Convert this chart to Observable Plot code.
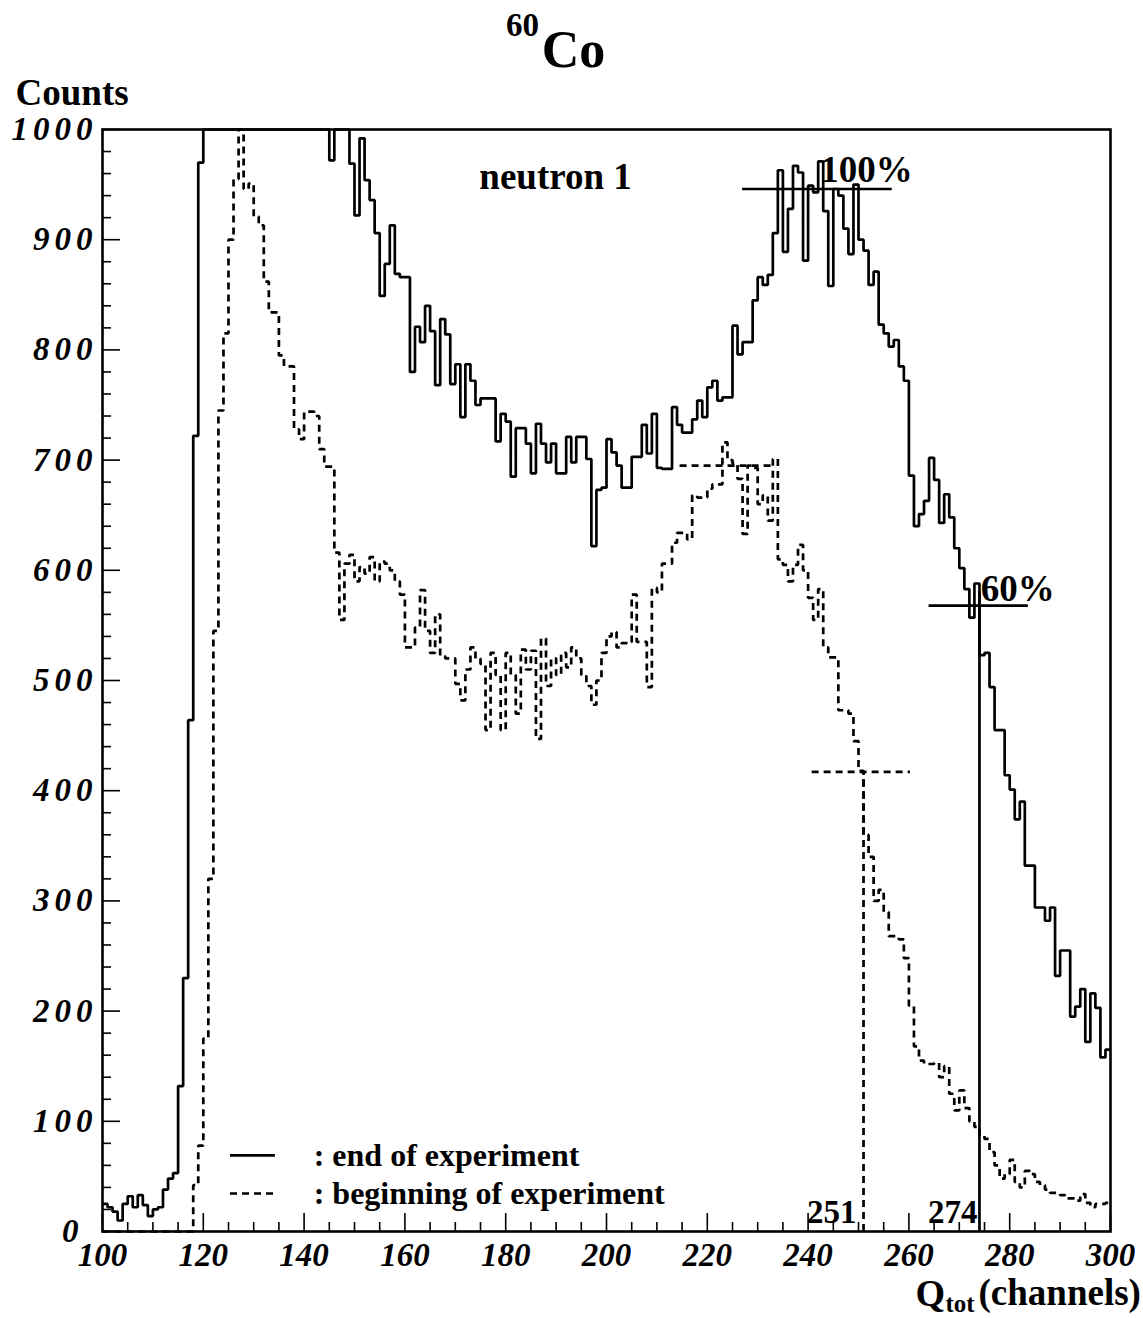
<!DOCTYPE html>
<html>
<head>
<meta charset="utf-8">
<script src="https://cdn.jsdelivr.net/npm/d3@7"></script>
<script src="https://cdn.jsdelivr.net/npm/@observablehq/plot@0.6"></script>
<style>
  html, body { margin: 0; padding: 0; background: #fff; }
  #chart { width: 1143px; height: 1318px; }
</style>
</head>
<body>
<div id="chart"></div>
<script>
// ---------------- data ----------------
const firstChannel = 100;

// "end of experiment" (solid), counts per channel 100..299
const endCounts = [
  25, 22, 18, 10, 25, 32, 22, 33, 24, 14,
  20, 22, 38, 48, 53, 132, 230, 464, 722, 970,
  1150, 1300, 1450, 1600, 1700, 1780, 1820, 1850, 1840, 1800,
  1750, 1680, 1600, 1520, 1450, 1380, 1300, 1250, 1200, 1150,
  1110, 1080, 1050, 1030, 1010, 972, 1010, 1005, 1003, 969,
  922, 992, 954, 936, 906, 849, 878, 913, 869, 866,
  866, 780, 821, 807, 840, 817, 768, 828, 814, 769,
  787, 739, 787, 772, 750, 756, 756, 756, 717, 742,
  735, 685, 729, 729, 715, 688, 733, 715, 698, 715,
  688, 688, 721, 698, 721, 721, 701, 622, 673, 675,
  719, 707, 695, 675, 675, 703, 703, 732, 706, 742,
  693, 692, 692, 748, 732, 725, 725, 737, 754, 739,
  766, 772, 754, 757, 757, 822, 796, 807, 807, 845,
  866, 859, 868, 906, 963, 889, 928, 967, 961, 881,
  949, 943, 971, 926, 858, 946, 940, 910, 887, 950,
  900, 890, 859, 871, 823, 815, 803, 809, 785, 772,
  686, 640, 651, 663, 702, 682, 643, 669, 648, 620,
  602, 583, 557, 588, 523, 525, 494, 455, 455, 414,
  401, 374, 390, 332, 332, 294, 294, 282, 294, 232,
  255, 255, 195, 204, 220, 172, 216, 203, 158, 165
];

// "beginning of experiment" (dashed), counts per channel 100..299
const beginCounts = [
  0, 0, 0, 0, 0, 0, 0, 0, 0, 0,
  0, 0, 0, 0, 0, 0, 0, 0, 42, 78,
  175, 320, 545, 745, 815, 900, 955, 1010, 946, 951,
  921, 913, 862, 834, 834, 795, 785, 785, 728, 719,
  744, 744, 740, 710, 694, 694, 616, 555, 606, 614,
  590, 603, 597, 612, 590, 608, 606, 600, 590, 578,
  530, 530, 548, 582, 545, 525, 560, 522, 520, 520,
  497, 482, 510, 530, 520, 515, 455, 525, 505, 455,
  525, 505, 470, 528, 510, 527, 447, 538, 495, 520,
  505, 525, 512, 530, 520, 505, 495, 478, 500, 525,
  540, 544, 530, 534, 535, 578, 535, 535, 494, 584,
  580, 606, 606, 625, 634, 634, 628, 668, 666, 666,
  674, 678, 678, 716, 700, 697, 683, 633, 695, 693,
  660, 668, 645, 701, 610, 605, 590, 605, 623, 600,
  575, 555, 583, 530, 521, 521, 473, 473, 470, 445,
  418, 360, 340, 300, 310, 290, 268, 268, 265, 248,
  205, 168, 155, 152, 152, 153, 140, 150, 125, 110,
  128, 112, 100, 95, 88, 84, 72, 60, 48, 52,
  65, 45, 40, 55, 52, 45, 42, 38, 35, 35,
  33, 30, 30, 28, 34, 26, 22, 25, 25, 26
];

// tick values
const xMajorTicks = [100, 120, 140, 160, 180, 200, 220, 240, 260, 280, 300];
const xMinorTicks = d3.range(100, 301, 5).filter(v => v % 20 !== 0);
const yMajorTicks = [0, 100, 200, 300, 400, 500, 600, 700, 800, 900, 1000];
const yMinorTicks = d3.range(0, 1001, 20).filter(v => v % 100 !== 0);

// reference levels (100% and 60% of the Compton edge) and edge positions
const levelLines = [
  {x1: 227.0, x2: 256.7, y: 946, dashed: false},
  {x1: 264.0, x2: 283.7, y: 568, dashed: false},
  {x1: 214.6, x2: 233.6, y: 695, dashed: true},
  {x1: 240.8, x2: 260.3, y: 417, dashed: true}
];
const edgeLines = [
  {x: 274, y2: 580, dashed: false},
  {x: 251, y2: 417, dashed: true}
];

// annotations
const annotations = [
  {text: "neutron 1", x: 189.9, y: 957, size: 37},
  {text: "100%", x: 251.6, y: 963, size: 37},
  {text: "60%", x: 281.6, y: 583, size: 37},
  {text: "251", x: 244.7, y: 17, size: 33},
  {text: "274", x: 268.7, y: 17, size: 33}
];

// legend
const legendEntries = [
  {label: ": end of experiment", y: 69, dashed: false},
  {label: ": beginning of experiment", y: 34.5, dashed: true}
];
const legendLineX = [125.4, 134.3];
const legendTextX = 141.9;

// ---------------- build ----------------
const toSteps = vals => {
  const pts = vals.map((v, i) => ({x: firstChannel + i, y: v}));
  pts.push({x: firstChannel + vals.length, y: vals[vals.length - 1]});
  return pts;
};

const W = 1143, H = 1318, mL = 102, mR = 33, mT = 129, mB = 87;
const frameW = W - mL - mR, frameH = H - mT - mB;
const serif = "'Liberation Serif', 'Times New Roman', Times, serif";
const dash = "7,5";
const LW = 2.7;
const txt = {fontWeight: "bold", fontFamily: serif, fill: "black", lineAnchor: "middle"};

const chart = Plot.plot({
  width: W, height: H,
  marginLeft: mL, marginRight: mR, marginTop: mT, marginBottom: mB,
  x: {domain: [100, 300]},
  y: {domain: [0, 1000], clamp: true},
  style: {background: "white", color: "black", fontFamily: serif, overflow: "visible"},
  marks: [
    // inward ticks
    Plot.tickY(yMajorTicks, {y: d => d, insetRight: frameW - 18, stroke: "black", strokeWidth: 1.6}),
    Plot.tickY(yMinorTicks, {y: d => d, insetRight: frameW - 9, stroke: "black", strokeWidth: 1.6}),
    Plot.tickX(xMajorTicks, {x: d => d, insetTop: frameH - 18, stroke: "black", strokeWidth: 1.6}),
    Plot.tickX(xMinorTicks, {x: d => d, insetTop: frameH - 9, stroke: "black", strokeWidth: 1.6}),
    // axis labels
    Plot.axisY({ticks: yMajorTicks, anchor: "left", tickSize: 0, tickPadding: 5, label: null,
      tickFormat: d => String(d), fontSize: 33, fontWeight: "bold", fontStyle: "italic", fontFamily: serif}),
    Plot.axisX({ticks: xMajorTicks, anchor: "bottom", tickSize: 0, tickPadding: 11, label: null,
      tickFormat: d => String(d), fontSize: 33, fontWeight: "bold", fontStyle: "italic", fontFamily: serif}),
    // histograms
    Plot.line(toSteps(beginCounts), {x: "x", y: "y", curve: "step-after", stroke: "black",
      strokeWidth: LW, strokeDasharray: dash, strokeLinejoin: "miter", strokeLinecap: "butt"}),
    Plot.line(toSteps(endCounts), {x: "x", y: "y", curve: "step-after", stroke: "black",
      strokeWidth: LW, strokeLinejoin: "miter", strokeLinecap: "butt"}),
    // level lines
    Plot.ruleY(levelLines.filter(d => !d.dashed), {y: "y", x1: "x1", x2: "x2", stroke: "black", strokeWidth: LW}),
    Plot.ruleY(levelLines.filter(d => d.dashed), {y: "y", x1: "x1", x2: "x2", stroke: "black", strokeWidth: LW, strokeDasharray: dash}),
    Plot.ruleX(edgeLines.filter(d => !d.dashed), {x: "x", y1: 0, y2: "y2", stroke: "black", strokeWidth: LW}),
    Plot.ruleX(edgeLines.filter(d => d.dashed), {x: "x", y1: 0, y2: "y2", stroke: "black", strokeWidth: LW, strokeDasharray: dash}),
    // annotations
    Plot.text(annotations, {x: "x", y: "y", text: "text", fontSize: d => d.size, ...txt}),
    // legend
    Plot.ruleY(legendEntries.filter(d => !d.dashed), {y: "y", x1: legendLineX[0], x2: legendLineX[1], stroke: "black", strokeWidth: LW}),
    Plot.ruleY(legendEntries.filter(d => d.dashed), {y: "y", x1: legendLineX[0], x2: legendLineX[1], stroke: "black", strokeWidth: LW, strokeDasharray: dash}),
    Plot.text(legendEntries, {x: legendTextX, y: "y", text: "label", textAnchor: "start", fontSize: 32, ...txt}),
    // frame
    Plot.frame({stroke: "black", strokeWidth: 2.6}),
    // title 60Co
    Plot.text(["Co"], {text: d => d, frameAnchor: "top", dx: -33, dy: -79, fontSize: 52, ...txt}),
    Plot.text(["60"], {text: d => d, frameAnchor: "top", dx: -84, dy: -104, fontSize: 33, ...txt}),
    // y label
    Plot.text(["Counts"], {text: d => d, frameAnchor: "top-left", textAnchor: "start", dx: -87, dy: -36, fontSize: 37, ...txt}),
    // x label Q_tot(channels)
    Plot.text(["Q"], {text: d => d, frameAnchor: "bottom-right", textAnchor: "start", dx: -195, dy: 62, fontSize: 38, ...txt}),
    Plot.text(["tot"], {text: d => d, frameAnchor: "bottom-right", textAnchor: "start", dx: -165, dy: 72, fontSize: 25, ...txt}),
    Plot.text(["(channels)"], {text: d => d, frameAnchor: "bottom-right", textAnchor: "start", dx: -132, dy: 62, fontSize: 37, ...txt})
  ]
});

document.getElementById("chart").appendChild(chart);

// widen the y tick labels like the original
const ylab = d3.select(chart).selectAll('g[aria-label="y-axis tick label"] text');
ylab.style("letter-spacing", "5px");
ylab.filter(function () { return this.textContent === "0"; }).attr("dx", -14);
</script>
</body>
</html>
